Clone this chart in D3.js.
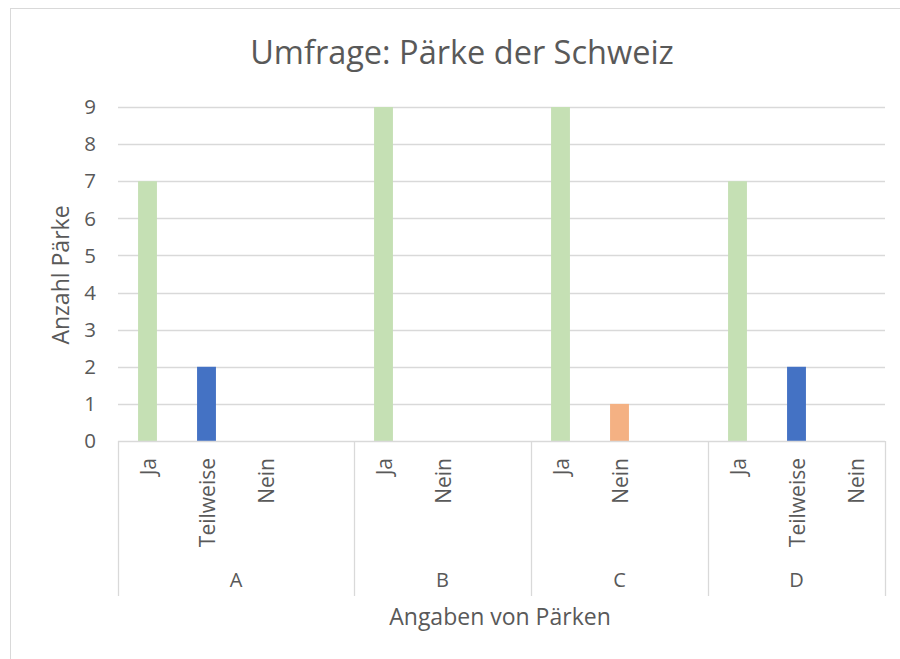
<!DOCTYPE html>
<html>
<head>
<meta charset="utf-8">
<script src="https://cdn.jsdelivr.net/npm/d3@7"></script>
<style>
  body { margin: 0; background: #fff; }
  text { font-family: "Open Sans", "Noto Sans", sans-serif; fill: #595959; }
</style>
</head>
<body>
<script>
// survey data, one entry per park
var groupNames = ["A", "B", "C", "D"];
var groupAnswers = [["Ja", "Teilweise", "Nein"], ["Ja", "Nein"], ["Ja", "Nein"], ["Ja", "Teilweise", "Nein"]];
var groupCounts = [[7, 2, 0], [9, 0], [9, 1], [7, 2, 0]];
var yTicks = [0, 1, 2, 3, 4, 5, 6, 7, 8, 9];
var answerColors = { "Ja": "#C5E0B4", "Teilweise": "#4472C4", "Nein": "#F4B183" };

var width = 900, height = 659;
var plotLeft = 118, plotRight = 885, plotTop = 107, plotBottom = 441;

var svg = d3.select("body").append("svg")
    .attr("width", width)
    .attr("height", height);

// chart frame
svg.append("rect")
    .attr("x", 10.5).attr("y", 8.5)
    .attr("width", 900).attr("height", 700)
    .attr("fill", "none").attr("stroke", "#D9D9D9");

// flatten to slots, with an empty slot after each group except the last
var slots = [];
var groups = [];
groupNames.forEach(function (g, gi) {
    var first = slots.length;
    groupAnswers[gi].forEach(function (a, ai) {
        slots.push({ key: g + "|" + a, group: g, answer: a, value: groupCounts[gi][ai] });
    });
    if (gi < groupNames.length - 1) slots.push({ key: g + "|_", group: g, answer: null, value: null });
    groups.push({ name: g, first: slots[first].key, last: slots[slots.length - 1].key });
});

var x = d3.scaleBand()
    .domain(slots.map(function (d) { return d.key; }))
    .range([plotLeft, plotRight])
    .paddingInner(0.68)
    .paddingOuter(0.34);
var step = x.step();

var y = d3.scaleLinear().domain([0, 9]).range([plotBottom, plotTop]);

// gridlines
svg.append("g")
    .selectAll("line")
    .data(yTicks.slice(1))
    .enter().append("line")
    .attr("x1", plotLeft).attr("x2", plotRight)
    .attr("y1", function (d) { return Math.round(y(d)) + 0.5; })
    .attr("y2", function (d) { return Math.round(y(d)) + 0.5; })
    .attr("stroke", "#D9D9D9").attr("stroke-width", 1.3);

// y tick labels
svg.append("g")
    .selectAll("text")
    .data(yTicks)
    .enter().append("text")
    .attr("x", 96)
    .attr("y", function (d) { return y(d); })
    .attr("dy", "0.35em")
    .attr("text-anchor", "end")
    .style("font-size", "20.5px")
    .text(function (d) { return d; });

// bars
svg.append("g")
    .selectAll("rect")
    .data(slots.filter(function (d) { return d.value; }))
    .enter().append("rect")
    .attr("x", function (d) { return x(d.key); })
    .attr("width", x.bandwidth())
    .attr("y", function (d) { return y(d.value); })
    .attr("height", function (d) { return y(0) - y(d.value); })
    .attr("fill", function (d) { return answerColors[d.answer]; });

// category axis line
svg.append("line")
    .attr("x1", plotLeft).attr("x2", plotRight)
    .attr("y1", plotBottom + 0.5).attr("y2", plotBottom + 0.5)
    .attr("stroke", "#D9D9D9").attr("stroke-width", 1.3);

// group dividers
var edges = [plotLeft].concat(groups.map(function (g) { return x(g.last) - step * x.paddingOuter() + step; }));
svg.append("g")
    .selectAll("line")
    .data(edges)
    .enter().append("line")
    .attr("x1", function (d) { return Math.round(d) + 0.5; })
    .attr("x2", function (d) { return Math.round(d) + 0.5; })
    .attr("y1", plotBottom).attr("y2", 596)
    .attr("stroke", "#D9D9D9").attr("stroke-width", 1.3);

// answer labels, rotated
svg.append("g")
    .selectAll("text")
    .data(slots.filter(function (d) { return d.answer; }))
    .enter().append("text")
    .attr("transform", function (d) {
        return "translate(" + (x(d.key) + x.bandwidth() / 2 + 1) + "," + 458 + ") rotate(-90)";
    })
    .attr("dy", "0.35em")
    .attr("text-anchor", "end")
    .style("font-size", "21px")
    .text(function (d) { return d.answer; });

// group labels
svg.append("g")
    .selectAll("text")
    .data(groups)
    .enter().append("text")
    .attr("x", function (d, i) { return (edges[i] + edges[i + 1]) / 2; })
    .attr("y", 587)
    .attr("text-anchor", "middle")
    .style("font-size", "20px")
    .text(function (d) { return d.name; });

// titles
svg.append("text")
    .attr("x", 462).attr("y", 64)
    .attr("text-anchor", "middle")
    .style("font-size", "32.5px")
    .text("Umfrage: Pärke der Schweiz");

svg.append("text")
    .attr("x", 500).attr("y", 625)
    .attr("text-anchor", "middle")
    .style("font-size", "23px")
    .text("Angaben von Pärken");

svg.append("text")
    .attr("transform", "translate(69,275) rotate(-90)")
    .attr("text-anchor", "middle")
    .style("font-size", "23px")
    .text("Anzahl Pärke");
</script>
</body>
</html>
